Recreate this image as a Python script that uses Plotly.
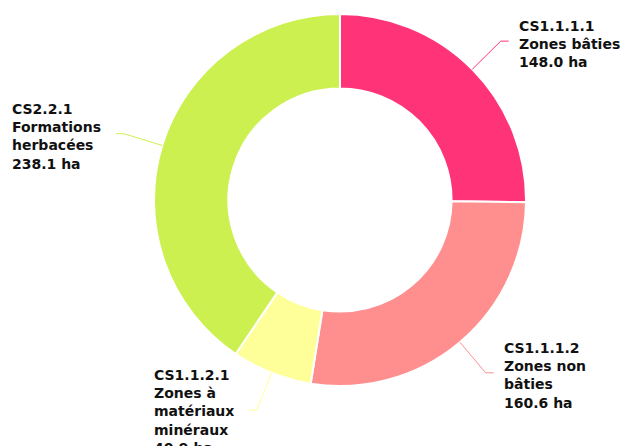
import math
import plotly.graph_objects as go

codes = ["CS1.1.1.1", "CS1.1.1.2", "CS1.1.2.1", "CS2.2.1"]
names = ["Zones bâties", "Zones non<br>bâties", "Zones à<br>matériaux<br>minéraux", "Formations<br>herbacées"]
values = [148.0, 160.6, 40.9, 238.1]
colors = ["#ff3377", "#ff8f8f", "#ffff99", "#ccf050"]

W, H = 627, 446
CX, CY, R = 340, 200, 186
HOLE = 0.6
L1, L2 = 40, 8
GAP_R, GAP_L = 8, 13

fig = go.Figure(go.Pie(
    values=values,
    labels=codes,
    hole=HOLE,
    sort=False,
    direction="clockwise",
    rotation=0,
    textinfo="none",
    hoverinfo="label+value",
    marker=dict(colors=colors, line=dict(color="white", width=2)),
    domain=dict(x=[(CX - R) / W, (CX + R) / W],
                y=[(H - CY - R) / H, (H - CY + R) / H]),
    showlegend=False,
))

def px(x, y):
    return x / W, 1 - y / H

total = sum(values)
cum = 0.0
shapes = []
annotations = []
for code, name, v, col in zip(codes, names, values, colors):
    mid = (cum + v / 2) / total * 2 * math.pi
    cum += v
    sx, sy = math.sin(mid), -math.cos(mid)
    x0, y0 = CX + R * sx, CY + R * sy
    x1, y1 = CX + (R + L1) * sx, CY + (R + L1) * sy
    right = sx > 0
    x2 = x1 + (L2 if right else -L2)
    for (a, b), (c, d) in [((x0, y0), (x1, y1)), ((x1, y1), (x2, y1))]:
        p0, p1 = px(a, b), px(c, d)
        shapes.append(dict(type="line", xref="paper", yref="paper",
                           x0=p0[0], y0=p0[1], x1=p1[0], y1=p1[1],
                           line=dict(color=col, width=1)))
    tx = x2 + (GAP_R if right else -GAP_L)
    ax, ay = px(tx, y1)
    text = f"{code}<br>{name}<br>{v:.1f} ha"
    nlines = text.count("<br>") + 1
    annotations.append(dict(
        xref="paper", yref="paper", x=ax, y=ay,
        yshift=-3 if nlines < 5 else -1,
        xanchor="left" if right else "right", yanchor="middle",
        align="left", showarrow=False,
        text=text,
        font=dict(family="DejaVu Sans", size=14, color="#111111", weight="bold"),
    ))

fig.update_layout(
    width=W, height=H,
    margin=dict(l=0, r=0, t=0, b=0),
    paper_bgcolor="white",
    plot_bgcolor="white",
    shapes=shapes,
    annotations=annotations,
)

fig.write_html("out.html", config={"displayModeBar": False},
               post_script="document.body.style.margin='0';")
